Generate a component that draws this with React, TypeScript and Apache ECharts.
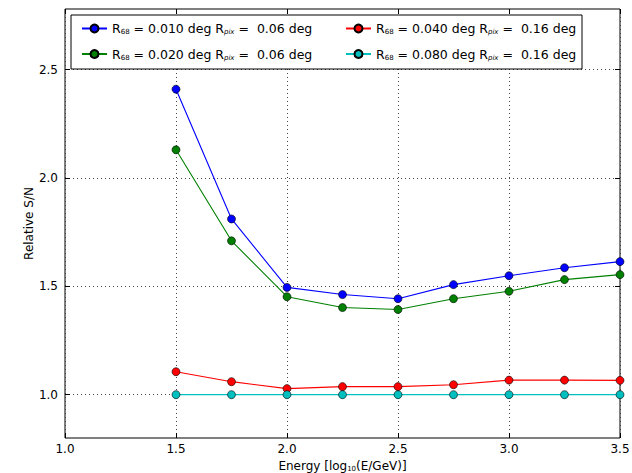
import React, { useEffect, useRef } from 'react';
import * as echarts from 'echarts';

const energies = [1.5, 1.75, 2.0, 2.25, 2.5, 2.75, 3.0, 3.25, 3.5];
const blueVals = [2.41, 1.811, 1.495, 1.462, 1.443, 1.508, 1.549, 1.586, 1.614];
const greenVals = [2.13, 1.71, 1.452, 1.402, 1.393, 1.443, 1.477, 1.531, 1.554];
const redVals = [1.106, 1.06, 1.028, 1.037, 1.037, 1.046, 1.067, 1.067, 1.066];
const cyanVals = [1.0, 1.0, 1.0, 1.0, 1.0, 1.0, 1.0, 1.0, 1.0];
const yTicks = [1.0, 1.5, 2.0, 2.5];
const seriesNames = ['s1', 's2', 's3', 's4'];
const seriesColors = ['#0000ff', '#008000', '#ff0000', '#00bfbf'];
const legendLabels: Record<string, string> = {
  s1: '{t|R}{sub|68}{t| = 0.010 deg R}{subi|pix}{t| =  0.06 deg}',
  s2: '{t|R}{sub|68}{t| = 0.020 deg R}{subi|pix}{t| =  0.06 deg}',
  s3: '{t|R}{sub|68}{t| = 0.040 deg R}{subi|pix}{t| =  0.16 deg}',
  s4: '{t|R}{sub|68}{t| = 0.080 deg R}{subi|pix}{t| =  0.16 deg}',
};

const FONT = 'DejaVu Sans';

export default function App() {
  const ref = useRef<HTMLDivElement>(null);
  useEffect(() => {
    if (!ref.current) return;
    const chart = echarts.init(ref.current, null, { renderer: 'svg' });
    const allVals = [blueVals, greenVals, redVals, cyanVals];
    const rich = {
      t: { fontFamily: FONT, fontSize: 12.5, color: '#000', verticalAlign: 'middle' },
      sub: { fontFamily: FONT, fontSize: 7, color: '#000', verticalAlign: 'bottom', padding: [7, 0, 0, 0] },
      subi: { fontFamily: FONT, fontSize: 7, fontStyle: 'italic', color: '#000', verticalAlign: 'bottom', padding: [7, 0, 0, 0] },
    };
    const legendCommon = {
      orient: 'vertical',
      itemWidth: 25,
      itemHeight: 10,
      itemGap: 12,
      formatter: (name: string) => legendLabels[name],
      textStyle: { rich },
    };
    const gridLine = { show: true, lineStyle: { color: '#444', type: [1, 3], width: 1 } };
    chart.setOption({
      animation: false,
      backgroundColor: '#fff',
      grid: { left: 65, top: 9, right: 12, bottom: 35, outerBoundsMode: 'none', containLabel: false, show: true, borderColor: '#000', borderWidth: 1, backgroundColor: 'transparent' },
      legend: [
        { ...legendCommon, left: 76, top: 17, data: ['s1', 's2'] },
        { ...legendCommon, left: 340, top: 17, data: ['s3', 's4'] },
      ],
      graphic: [
        { type: 'rect', shape: { x: 71, y: 15, width: 511, height: 54 }, style: { fill: '#fff', stroke: '#000', lineWidth: 1 }, z: 4 },
      ],
      xAxis: [
        {
          type: 'value', min: 1.0, max: 3.5, interval: 0.5, position: 'bottom',
          name: 'Energy [log{sub|10}(E/GeV)]', nameLocation: 'middle', nameGap: 22,
          nameTextStyle: { fontFamily: FONT, fontSize: 12, color: '#000', rich: { sub: { fontFamily: FONT, fontSize: 7, color: '#000', verticalAlign: 'bottom', padding: [5, 0, 0, 0] } } },
          axisLine: { show: false },
          axisTick: { show: true, inside: true, length: 5, lineStyle: { color: '#000' } },
          axisLabel: { fontFamily: FONT, fontSize: 12, color: '#000', margin: 5, formatter: (v: number) => v.toFixed(1) },
          splitLine: gridLine,
        },
        {
          type: 'value', min: 1.0, max: 3.5, interval: 0.5, position: 'top',
          axisLine: { show: false },
          axisTick: { show: true, inside: true, length: 5, lineStyle: { color: '#000' } },
          axisLabel: { show: false },
          splitLine: { show: false },
        },
      ],
      yAxis: [
        {
          type: 'value', min: 0.8, max: 2.78, position: 'left',
          name: 'Relative S/N', nameLocation: 'middle', nameGap: 30, nameMoveOverlap: false,
          nameTextStyle: { fontFamily: FONT, fontSize: 12, color: '#000' },
          axisLine: { show: false },
          axisTick: { show: true, inside: true, length: 5, lineStyle: { color: '#000' }, customValues: yTicks },
          axisLabel: { fontFamily: FONT, fontSize: 12, color: '#000', margin: 7, customValues: yTicks, formatter: (v: number) => v.toFixed(1) },
          splitLine: gridLine,
        },
        {
          type: 'value', min: 0.8, max: 2.78, position: 'right',
          axisLine: { show: false },
          axisTick: { show: true, inside: true, length: 5, lineStyle: { color: '#000' }, customValues: yTicks },
          axisLabel: { show: false, customValues: yTicks },
          splitLine: { show: false },
        },
      ],
      series: seriesNames.map((n, i) => ({
        name: n,
        type: 'line',
        xAxisIndex: 0,
        yAxisIndex: 0,
        data: energies.map((e, j) => [e, allVals[i][j]]),
        symbol: 'circle',
        symbolSize: 8,
        showAllSymbol: true,
        lineStyle: { color: seriesColors[i], width: 1.1 },
        itemStyle: { color: seriesColors[i], borderColor: '#000', borderWidth: 0.6 },
        clip: false,
        z: 2 + i,
      })),
    });
    return () => chart.dispose();
  }, []);
  return <div ref={ref} style={{ width: 632, height: 473, position: 'absolute', left: 0, top: 0 }} />;
}
